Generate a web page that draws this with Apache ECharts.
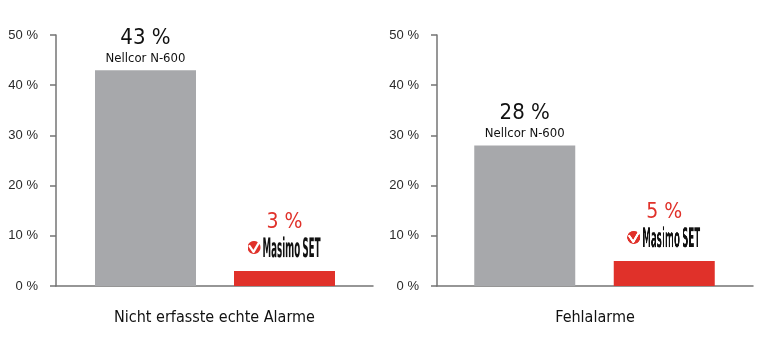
<!DOCTYPE html>
<html>
<head>
<meta charset="utf-8">
<script src="https://cdn.jsdelivr.net/npm/echarts@6/dist/echarts.min.js"></script>
<style>
html,body{margin:0;padding:0;background:#fff;}
#chart{width:765px;height:343px;}
</style>
</head>
<body>
<div id="chart"></div>
<script>
// ---- data ----
const panelTitles = ['Nicht erfasste echte Alarme', 'Fehlalarme'];
const devices = ['Nellcor N-600', 'Masimo SET'];
const nellcorValues = [43, 28];
const masimoValues = [3, 5];
const yMin = 0, yMax = 50, yStep = 10;

// ---- styles ----
const GRAY = '#a7a8ab';
const RED = '#e0312a';
const AXIS = '#747474';
const NARROW = '"DejaVu Sans Condensed", "Liberation Sans Narrow", sans-serif';

// Masimo SET logo drawn on a small canvas (used as rich-text background image)
function makeLogo() {
  const c = document.createElement('canvas');
  c.width = 148; c.height = 48;
  const ctx = c.getContext('2d');
  ctx.fillStyle = RED;
  ctx.beginPath(); ctx.arc(13, 25, 13, 0, Math.PI * 2); ctx.fill();
  ctx.strokeStyle = '#fff'; ctx.lineWidth = 4.5; ctx.lineJoin = 'round'; ctx.lineCap = 'round';
  ctx.beginPath(); ctx.moveTo(4, 22); ctx.lineTo(12, 34); ctx.lineTo(23, 15); ctx.stroke();
  ctx.font = 'bold 54px "DejaVu Sans Condensed", sans-serif';
  const w1 = ctx.measureText('Masimo').width;
  const w2 = ctx.measureText('SET').width;
  const gap = 12;
  const sx = 116 / (w1 + w2 + gap);
  ctx.save();
  ctx.translate(30, 44);
  ctx.scale(sx, 1);
  ctx.fillStyle = '#111';
  ctx.fillText('Masimo', 0, 0);
  ctx.fillText('SET', w1 + gap, 0);
  ctx.restore();
  return c;
}
const logo = makeLogo();

const frames = [
  {left: 56, width: 317},
  {left: 437, width: 316}
];
const barGrids = [
  {left: 76, width: 278},
  {left: 455, width: 279}
];
const TOP = 35, HEIGHT = 251;

const grid = [], xAxis = [], yAxis = [], series = [];
for (let p = 0; p < 2; p++) {
  const fi = grid.length;
  grid.push({left: frames[p].left, top: TOP, width: frames[p].width, height: HEIGHT});
  xAxis.push({
    gridIndex: fi, type: 'value', min: 0, max: 1,
    axisLine: {show: true, lineStyle: {color: AXIS, width: 1.5}},
    axisTick: {show: false}, axisLabel: {show: false}, splitLine: {show: false},
    name: panelTitles[p], nameLocation: 'middle', nameGap: 24,
    nameTextStyle: {fontFamily: NARROW, fontSize: 16, color: '#111'}
  });
  yAxis.push({
    gridIndex: fi, type: 'value', min: yMin, max: yMax, interval: yStep,
    axisLine: {show: true, lineStyle: {color: AXIS, width: 1.5}},
    axisTick: {show: true, length: 6, lineStyle: {color: AXIS, width: 1.5}},
    axisLabel: {formatter: '{value} %', margin: 18, fontFamily: '"Liberation Sans", Arial, sans-serif', fontSize: 13, color: '#2a2a2a'},
    splitLine: {show: false}
  });
  const bi = grid.length;
  grid.push({left: barGrids[p].left, top: TOP, width: barGrids[p].width, height: HEIGHT});
  xAxis.push({gridIndex: bi, type: 'category', data: devices, show: false});
  yAxis.push({gridIndex: bi, type: 'value', min: yMin, max: yMax, show: false});
  series.push({
    type: 'bar', xAxisIndex: bi, yAxisIndex: bi, barWidth: 101,
    animation: false,
    data: [
      {
        value: nellcorValues[p],
        itemStyle: {color: GRAY},
        label: {
          show: true, position: 'top', distance: 4,
          formatter: '{v|' + nellcorValues[p] + ' %}\n{n|' + devices[0] + '}',
          rich: {
            v: {fontFamily: NARROW, fontSize: 22, lineHeight: 24, color: '#111', align: 'center'},
            n: {fontFamily: NARROW, fontSize: 13, lineHeight: 16, color: '#111', align: 'center'}
          }
        }
      },
      {
        value: masimoValues[p],
        itemStyle: {color: RED},
        label: {
          show: true, position: 'top', distance: 12,
          formatter: '{v|' + masimoValues[p] + ' %}\n{logo| }',
          rich: {
            v: {fontFamily: NARROW, fontSize: 21, lineHeight: 24, color: RED, align: 'center'},
            logo: {width: 74, height: 24, lineHeight: 24, color: 'transparent', align: 'center', backgroundColor: {image: logo}}
          }
        }
      }
    ]
  });
}

const chart = echarts.init(document.getElementById('chart'), null, {renderer: 'canvas'});
chart.setOption({animation: false, grid, xAxis, yAxis, series});
</script>
</body>
</html>
